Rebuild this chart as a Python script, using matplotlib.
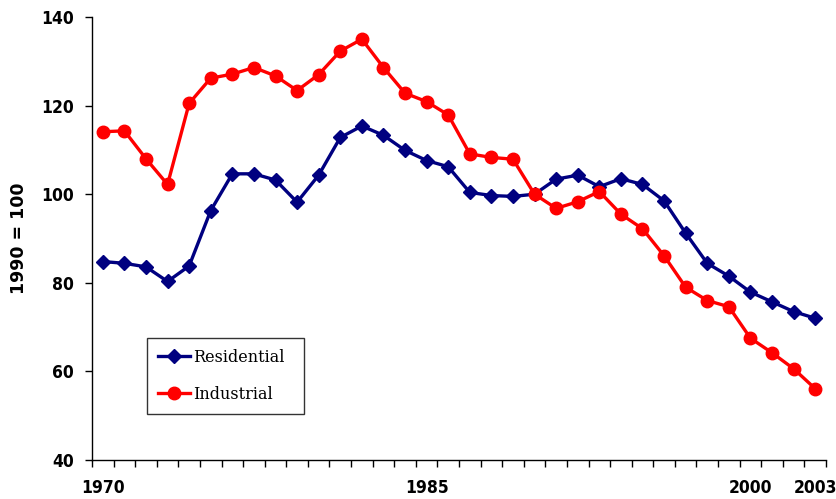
import matplotlib
matplotlib.use("Agg")
import matplotlib.pyplot as plt
from matplotlib import font_manager as fm
import numpy as np

years = list(range(1970, 2004))
residential = [84.8, 84.4, 83.6, 80.3, 83.8, 96.3, 104.6, 104.6, 103.2, 98.2,
               104.3, 112.8, 115.4, 113.3, 109.9, 107.6, 106.2, 100.4, 99.7, 99.5,
               100.0, 103.4, 104.3, 101.7, 103.5, 102.2, 98.5, 91.2, 84.4, 81.5,
               77.9, 75.7, 73.5, 72.0]
industrial = [114.1, 114.3, 108.0, 102.2, 120.5, 126.2, 127.1, 128.6, 126.7, 123.4,
              127.0, 132.3, 135.0, 128.6, 122.8, 120.9, 117.9, 109.1, 108.3, 107.9,
              100.0, 96.8, 98.3, 100.6, 95.5, 92.2, 86.1, 79.0, 76.0, 74.6,
              67.5, 64.2, 60.6, 56.1]
label_years = [1970, 1985, 2000, 2003]
y_ticks = [40, 60, 80, 100, 120, 140]

# tick font: condensed DejaVu bold if available
tick_fp = fm.FontProperties(family="DejaVu Sans", weight="bold", size=12.5)
try:
    cand = fm.FontProperties(family="DejaVu Sans", weight="bold",
                             stretch="condensed", size=12.5)
    path = fm.findfont(cand, fallback_to_default=False)
    if "Condensed" in path:
        tick_fp = cand
except Exception:
    pass

W, H = 837, 499
fig = plt.figure(figsize=(W / 100, H / 100), dpi=100)
ax = fig.add_axes([92 / W, (H - 460) / H, (826 - 92) / W, (460 - 17) / H])

x = np.arange(len(years))
ax.plot(x, residential, color="#000080", lw=2.4, marker="D", ms=7,
        label="Residential", zorder=3)
ax.plot(x, industrial, color="#FF0000", lw=2.4, marker="o", ms=9,
        label="Industrial", zorder=3)

ax.set_xlim(-0.5, len(years) - 0.5)
ax.set_ylim(40, 140)

ax.set_xticks(np.arange(-0.5, len(years), 1.0), minor=True)
ax.set_xticks([years.index(y) for y in label_years])
ax.set_xticklabels([str(y) for y in label_years], fontproperties=tick_fp)
ax.tick_params(axis="x", which="major", length=0, pad=14)
ax.tick_params(axis="x", which="minor", length=5, width=1, direction="out")

ax.set_yticks(y_ticks)
ax.set_yticklabels([str(v) for v in y_ticks], fontproperties=tick_fp)
ax.tick_params(axis="y", length=5, width=1, direction="out", pad=8)

ax.set_ylabel("1990 = 100", fontsize=12.5, fontweight="bold", family="DejaVu Sans")
ax.yaxis.set_label_coords(-0.087, 0.5)

for s in ["top", "right"]:
    ax.spines[s].set_visible(False)
for s in ["left", "bottom"]:
    ax.spines[s].set_linewidth(1)
    ax.spines[s].set_color("black")

leg = ax.legend(loc="lower left", bbox_to_anchor=(0.075, 0.104, 0.214, 0.167),
                mode="expand", prop={"family": "DejaVu Serif", "size": 11.5},
                frameon=True, fancybox=False, edgecolor="black",
                handlelength=2.0, handletextpad=0.2, borderpad=0.7,
                labelspacing=1.25, borderaxespad=0)
leg.get_frame().set_linewidth(1)

fig.savefig("out.png", dpi=100)
